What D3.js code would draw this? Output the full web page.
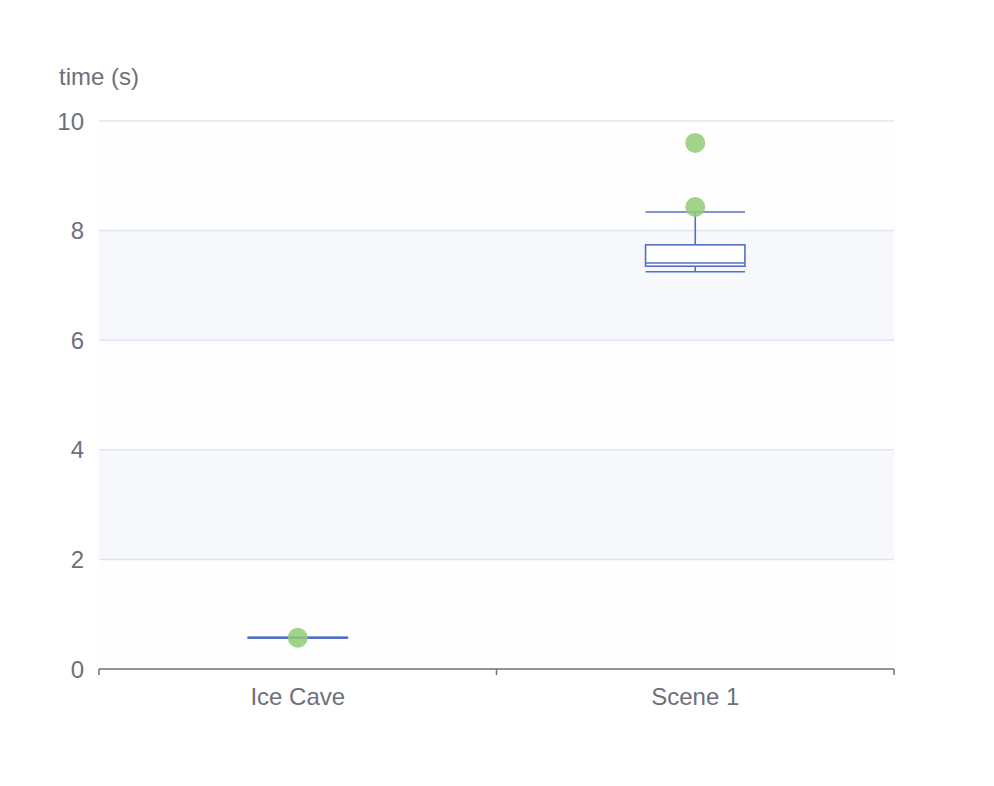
<!DOCTYPE html>
<html><head><meta charset="utf-8">
<script src="https://cdn.jsdelivr.net/npm/d3@7"></script>
<style>body{margin:0;background:#fff}</style>
</head><body>
<svg id="c" width="994" height="786"></svg>
<script>
const categories = ["Ice Cave", "Scene 1"];
// [low whisker, Q1, median, Q3, high whisker]
const boxValues = [
  [0.56, 0.565, 0.57, 0.575, 0.58],
  [7.25, 7.35, 7.41, 7.74, 8.34]
];
const outliers = [
  ["Ice Cave", 0.57],
  ["Scene 1", 9.6],
  ["Scene 1", 8.43]
];
const yTicks = [0, 2, 4, 6, 8, 10];
const yName = "time (s)";

const svg = d3.select("#c");
const L = 99, R = 894, T = 121, B = 669;
const x = d3.scaleBand().domain(categories).range([L, R]);
const y = d3.scaleLinear().domain([0, 10]).range([B, T]);
const font = "'Liberation Sans', Arial, sans-serif";
const txt = "#6e7079";
const fs = 24;

// split areas
const bands = yTicks.slice(0, -1).map((v, i) => [v, yTicks[i + 1], i]);
svg.append("g").selectAll("rect").data(bands).join("rect")
  .attr("x", L).attr("width", R - L)
  .attr("y", d => y(d[1])).attr("height", d => y(d[0]) - y(d[1]))
  .attr("fill", d => d[2] % 2 === 0 ? "#fefefe" : "#f6f8fc");

// grid lines
svg.append("g").selectAll("line").data(yTicks.filter(v => v > 0)).join("line")
  .attr("x1", L).attr("x2", R).attr("y1", d => y(d)).attr("y2", d => y(d))
  .attr("stroke", "#e0e6f1").attr("stroke-width", 1.5);

// y labels
svg.append("g").selectAll("text").data(yTicks).join("text")
  .attr("x", 84).attr("y", d => y(d)).attr("dy", "0.36em")
  .attr("text-anchor", "end").attr("font-family", font).attr("font-size", fs)
  .attr("fill", txt).text(d => d);
svg.append("text").attr("x", 99).attr("y", 85).attr("text-anchor", "middle")
  .attr("font-family", font).attr("font-size", fs).attr("fill", txt).text(yName);

// x axis
svg.append("line").attr("x1", L).attr("x2", R).attr("y1", B).attr("y2", B)
  .attr("stroke", txt).attr("stroke-width", 1.5);
const tickPos = [L, ...categories.map(c => x(c) + x.bandwidth())];
svg.append("g").selectAll("line").data(tickPos).join("line")
  .attr("x1", d => d).attr("x2", d => d).attr("y1", B).attr("y2", B + 6)
  .attr("stroke", txt).attr("stroke-width", 1.5);
svg.append("g").selectAll("text").data(categories).join("text")
  .attr("x", d => x(d) + x.bandwidth() / 2).attr("y", 705)
  .attr("text-anchor", "middle").attr("font-family", font).attr("font-size", fs)
  .attr("fill", txt).text(d => d);

// boxes
const bw = x.bandwidth() * 0.25;
const gb = svg.append("g").attr("stroke", "#5470c6").attr("stroke-width", 1.6).attr("fill", "#fff");
categories.forEach((c, i) => {
  const [lo, q1, md, q3, hi] = boxValues[i];
  const cx = x(c) + x.bandwidth() / 2;
  const g = gb.append("g");
  g.append("line").attr("x1", cx).attr("x2", cx).attr("y1", y(hi)).attr("y2", y(q3));
  g.append("line").attr("x1", cx).attr("x2", cx).attr("y1", y(q1)).attr("y2", y(lo));
  g.append("rect").attr("x", cx - bw / 2).attr("width", bw)
    .attr("y", y(q3)).attr("height", Math.max(0, y(q1) - y(q3)));
  [lo, md, hi].forEach(v => g.append("line").attr("x1", cx - bw / 2).attr("x2", cx + bw / 2)
    .attr("y1", y(v)).attr("y2", y(v)));
});

// outliers
svg.append("g").selectAll("circle").data(outliers).join("circle")
  .attr("cx", d => x(d[0]) + x.bandwidth() / 2).attr("cy", d => y(d[1]))
  .attr("r", 10).attr("fill", "#91cc75").attr("fill-opacity", 0.85);
</script>
</body></html>
